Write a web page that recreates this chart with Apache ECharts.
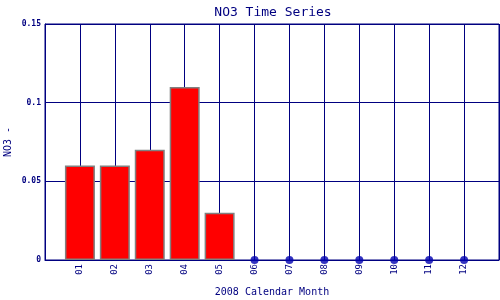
<!DOCTYPE html>
<html><head><meta charset="utf-8">
<script src="https://cdn.jsdelivr.net/npm/echarts@6/dist/echarts.min.js"></script>
<style>html,body{margin:0;padding:0;background:#fff}#c{width:500px;height:300px}</style>
</head><body><div id="c"></div>
<script>
const months = ['01','02','03','04','05','06','07','08','09','10','11','12'];
const no3 = [0.06, 0.06, 0.07, 0.11, 0.03, 0, 0, 0, 0, 0, 0, 0];
const yTicks = [0, 0.05, 0.1, 0.15];

const navy = '#000080';
const font = 'DejaVu Sans Mono';
const barData = [], dotData = [];
no3.forEach((v, i) => {
  if (v > 0) barData.push([i + 1, v]); else dotData.push([i + 1, v]);
});

const chart = echarts.init(document.getElementById('c'));
chart.setOption({
  animation: false,
  title: {text: 'NO3 Time Series', left: 268, top: 1, textAlign: 'center',
    textStyle: {color: navy, fontFamily: font, fontSize: 13, fontWeight: 'normal'}},
  grid: {left: 45, top: 24, right: 1, bottom: 40, show: true, borderColor: navy, borderWidth: 1,
    outerBoundsMode: 'none', containLabel: false},
  xAxis: {
    type: 'value', min: 0, max: 13, interval: 1,
    name: '2008 Calendar Month', nameLocation: 'middle', nameGap: 27, nameMoveOverlap: false,
    nameTextStyle: {color: navy, fontFamily: font, fontSize: 10},
    axisLine: {lineStyle: {color: navy}}, axisTick: {show: false},
    splitLine: {lineStyle: {color: navy, width: 1}},
    axisLabel: {rotate: 90, color: navy, fontFamily: font, fontSize: 9, margin: 4,
      formatter: v => (v >= 1 && v <= 12) ? months[v - 1] : ''}
  },
  yAxis: {
    type: 'value', min: yTicks[0], max: yTicks[yTicks.length - 1], interval: 0.05,
    name: 'NO3 -', nameLocation: 'middle', nameGap: 32, nameMoveOverlap: false,
    nameTextStyle: {color: navy, fontFamily: font, fontSize: 10},
    axisLine: {show: true, lineStyle: {color: navy}}, axisTick: {show: false},
    splitLine: {lineStyle: {color: navy, width: 1}},
    axisLabel: {color: navy, fontFamily: font, fontSize: 8, fontWeight: 'bold', margin: 4,
      formatter: v => String(+v.toFixed(2))}
  },
  series: [
    {type: 'bar', data: barData, barWidth: 30,
      itemStyle: {color: '#ff0000', borderColor: '#808080', borderWidth: 1.5}},
    {type: 'scatter', data: dotData, symbolSize: 8, itemStyle: {color: '#0000b0'}, z: 5}
  ]
});
</script></body></html>
